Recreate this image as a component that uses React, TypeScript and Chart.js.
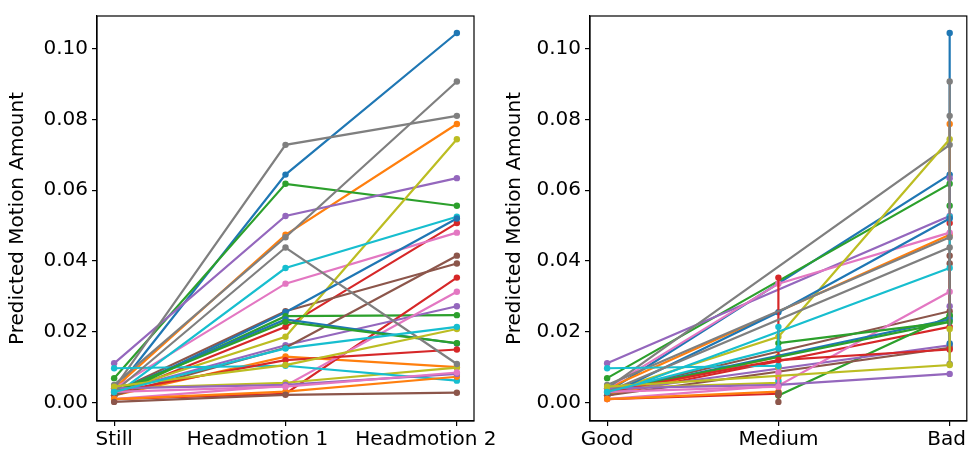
import { useEffect, useRef } from "react";
import { Chart, registerables } from "chart.js";
Chart.register(...registerables);

const leftCategories = ["Still", "Headmotion 1", "Headmotion 2"];
const rightCategories = ["Good", "Medium", "Bad"];
const yTicks = [0, 0.02, 0.04, 0.06, 0.08, 0.1];
const yAxisTitle = "Predicted Motion Amount";

// one entry per subject (30 subjects)
const stillValues = [
  0.003, 0.004, 0.0069, 0.002, 0.0111, 0.003, 0.004, 0.004, 0.003, 0.002,
  0.002, 0.002, 0.002, 0.001, 0.003, 0.002, 0.001, 0.005, 0.004, 0.0097,
  0.003, 0.001, 0.003, 0.003, 0.004, 0.0002, 0.003, 0.003, 0.0045, 0.003,
];
const headmotion1Values = [
  0.0644, 0.0474, 0.0618, 0.0214, 0.0527, 0.0258, 0.0336, 0.0728, 0.0186, 0.038,
  0.0255, 0.013, 0.0244, 0.0025, 0.0162, 0.0155, 0.0048, 0.0467, 0.0056, 0.0104,
  0.0235, 0.0031, 0.0228, 0.012, 0.005, 0.0022, 0.0045, 0.0438, 0.0106, 0.0153,
];
const headmotion2Values = [
  0.1044, 0.0787, 0.0556, 0.0507, 0.0634, 0.0393, 0.048, 0.081, 0.0744, 0.0525,
  0.052, 0.01, 0.0247, 0.0353, 0.0272, 0.0415, 0.0313, 0.0907, 0.0099, 0.0062,
  0.0167, 0.0073, 0.0168, 0.015, 0.0081, 0.0028, 0.0085, 0.0109, 0.0208, 0.0214,
];
const stillRatings = [
  "Good", "Good", "Good", "Good", "Good", "Good", "Good", "Good", "Good", "Good",
  "Good", "Good", "Medium", "Good", "Good", "Good", "Good", "Good", "Good", "Good",
  "Good", "Good", "Good", "Good", "Good", "Medium", "Good", "Good", "Good", "Good",
];
const headmotion1Ratings = [
  "Bad", "Bad", "Bad", "Bad", "Bad", "Bad", "Medium", "Bad", "Medium", "Bad",
  "Medium", "Medium", "Bad", "Medium", "Bad", "Bad", "Medium", "Bad", "Medium", "Medium",
  "Bad", "Medium", "Bad", "Medium", "Medium", "Medium", "Medium", "Bad", "Bad", "Medium",
];
const headmotion2Ratings = [
  "Bad", "Bad", "Bad", "Bad", "Bad", "Bad", "Bad", "Bad", "Bad", "Bad",
  "Bad", "Medium", "Bad", "Medium", "Bad", "Bad", "Bad", "Bad", "Medium", "Medium",
  "Bad", "Medium", "Medium", "Bad", "Bad", "Medium", "Medium", "Bad", "Bad", "Medium",
];

const tab10 = [
  "#1f77b4", "#ff7f0e", "#2ca02c", "#d62728", "#9467bd",
  "#8c564b", "#e377c2", "#7f7f7f", "#bcbd22", "#17becf",
];

const FONT = "'DejaVu Sans', sans-serif";

const boxPlugin = {
  id: "box",
  afterDraw(chart: any) {
    const { ctx, chartArea } = chart;
    ctx.save();
    ctx.strokeStyle = "#000";
    ctx.lineWidth = 1.2;
    ctx.strokeRect(chartArea.left, chartArea.top, chartArea.right - chartArea.left, chartArea.bottom - chartArea.top);
    ctx.restore();
  },
};

function xLabelPlugin(categories: string[], shifts: number[]) {
  return {
    id: "xlabels",
    afterDraw(chart: any) {
      const { ctx, chartArea } = chart;
      const sx = chart.scales.x;
      ctx.save();
      ctx.font = `20px ${FONT}`;
      ctx.fillStyle = "#000";
      ctx.textAlign = "center";
      ctx.textBaseline = "top";
      categories.forEach((c, i) => {
        ctx.fillText(c, sx.getPixelForValue(i) + shifts[i], chartArea.bottom + 9);
      });
      ctx.restore();
    },
  };
}

function buildDatasets(xs: number[][]) {
  return stillValues.map((_, i) => {
    const c = tab10[i % 10];
    return {
      data: [
        { x: xs[i][0], y: stillValues[i] },
        { x: xs[i][1], y: headmotion1Values[i] },
        { x: xs[i][2], y: headmotion2Values[i] },
      ],
      showLine: true,
      borderColor: c,
      backgroundColor: c,
      borderWidth: 2.2,
      pointRadius: 3.2,
      pointBorderWidth: 0,
      pointHoverRadius: 3.2,
      order: stillValues.length - i,
    };
  });
}

function makeConfig(
  categories: string[],
  xs: number[][],
  yWidth: number,
  padRight: number,
  titlePad: number,
  shifts: number[]
) {
  return {
    type: "scatter" as const,
    data: { datasets: buildDatasets(xs) },
    plugins: [boxPlugin, xLabelPlugin(categories, shifts)],
    options: {
      responsive: false,
      animation: false,
      devicePixelRatio: 1,
      layout: { padding: { left: 0, right: padRight, top: 13, bottom: 0 } },
      plugins: { legend: { display: false }, tooltip: { enabled: false } },
      scales: {
        x: {
          type: "linear",
          min: -0.1,
          max: 2.1,
          afterBuildTicks: (s: any) => {
            s.ticks = categories.map((_, i) => ({ value: i }));
          },
          afterFit: (s: any) => {
            s.height = 31;
          },
          ticks: { display: false },
          grid: { display: true, drawOnChartArea: false, drawTicks: true, tickLength: 5, color: "#000", lineWidth: 1.2 },
          border: { display: true, color: "#000", width: 1.2 },
        },
        y: {
          type: "linear",
          min: -0.0052,
          max: 0.1092,
          afterBuildTicks: (s: any) => {
            s.ticks = yTicks.map((v) => ({ value: v }));
          },
          afterFit: (s: any) => {
            s.width = yWidth;
          },
          ticks: {
            callback: (v: any) => Number(v).toFixed(2),
            font: { family: FONT, size: 20 },
            color: "#000",
            padding: 4,
          },
          grid: { display: true, drawOnChartArea: false, drawTicks: true, tickLength: 5, color: "#000", lineWidth: 1.2 },
          border: { display: true, color: "#000", width: 1.2 },
          title: {
            display: true,
            text: yAxisTitle,
            font: { family: FONT, size: 20 },
            color: "#000",
            padding: { top: titlePad, bottom: 0 },
          },
        },
      },
    },
  };
}

const ratingIndex = (r: string) => rightCategories.indexOf(r);

function Panel({ left, width, kind }: { left: number; width: number; kind: "left" | "right" }) {
  const ref = useRef<HTMLCanvasElement>(null);
  useEffect(() => {
    if (!ref.current) return;
    let cfg;
    if (kind === "left") {
      const xs = stillValues.map(() => [0, 1, 2]);
      cfg = makeConfig(leftCategories, xs, 97, width - 474, 6, [0, -28, -31]);
    } else {
      const xs = stillValues.map((_, i) => [
        ratingIndex(stillRatings[i]),
        ratingIndex(headmotion1Ratings[i]),
        ratingIndex(headmotion2Ratings[i]),
      ]);
      cfg = makeConfig(rightCategories, xs, 105, 3, 18, [0, 0, -3]);
    }
    const chart = new Chart(ref.current, cfg as any);
    return () => chart.destroy();
  }, [kind, width]);
  return (
    <div style={{ position: "absolute", left, top: 0, width, height: 452 }}>
      <canvas ref={ref} width={width} height={452} style={{ width, height: 452, display: "block" }} />
    </div>
  );
}

export default function App() {
  return (
    <div style={{ position: "absolute", left: 0, top: 0, width: 970, height: 452, background: "#fff" }}>
      <Panel left={0} width={520} kind="left" />
      <Panel left={485} width={485} kind="right" />
    </div>
  );
}
